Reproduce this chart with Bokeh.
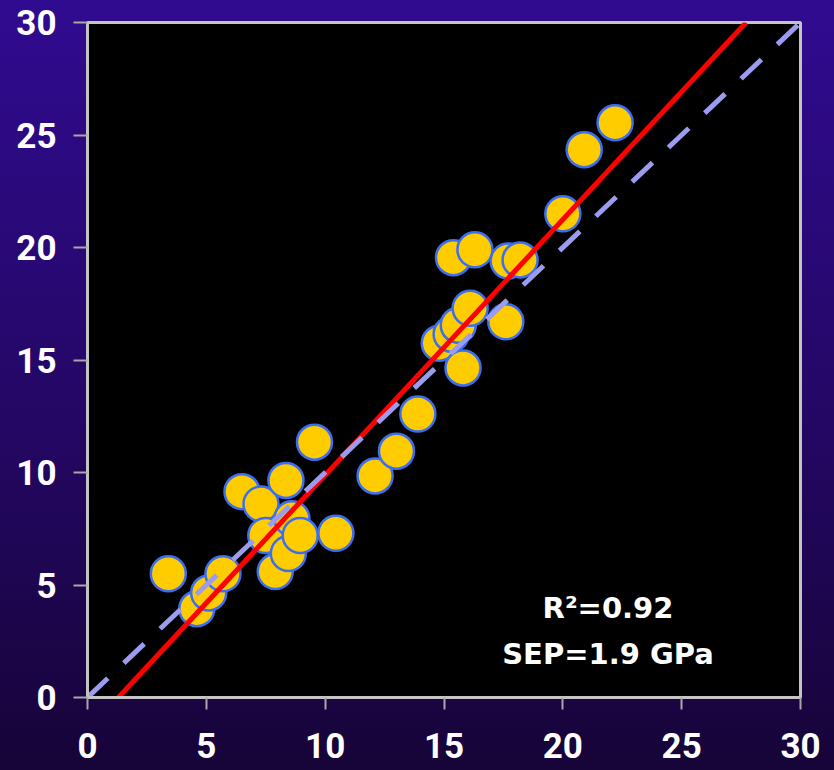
from bokeh.plotting import figure
from bokeh.models import Range1d, FixedTicker, Label
from bokeh.embed import file_html
from bokeh.resources import INLINE

# Measured vs predicted modulus (GPa)
measured = [3.4, 4.6, 5.1, 5.7, 6.5, 7.3, 7.5, 8.35, 7.9, 8.45, 8.6, 8.95, 9.55,
            10.45, 12.1, 13.0, 13.9, 14.8, 15.3, 15.6, 15.8, 16.1, 15.4, 16.3,
            17.6, 17.7, 18.2, 20.0, 20.9, 22.2]
predicted = [5.5, 3.95, 4.65, 5.5, 9.15, 8.6, 7.2, 9.65, 5.6, 6.4, 7.95, 7.2, 11.35,
             7.3, 9.85, 10.95, 12.6, 15.75, 16.15, 16.55, 14.65, 17.3, 19.55, 19.9,
             16.7, 19.4, 19.45, 21.5, 24.35, 25.55]

# Regression fit and identity reference
fit_slope = 1.136
fit_intercept = -1.477
axis_min, axis_max = 0, 30
ticks = [0, 5, 10, 15, 20, 25, 30]

r2_text = "R\u00b2=0.92"
sep_text = "SEP=1.9 GPa"

p = figure(width=834, height=770, output_backend="svg", toolbar_location=None,
           x_range=Range1d(axis_min, axis_max), y_range=Range1d(axis_min, axis_max),
           min_border_left=87, min_border_right=34, min_border_top=22, min_border_bottom=73)

p.styles = {"background": "linear-gradient(to bottom, #300b90 0%, #240764 55%, #170438 100%)"}
p.border_fill_color = None
p.background_fill_color = "black"
p.outline_line_color = "#c4c4c4"
p.outline_line_width = 3
p.grid.visible = False

for ax in (p.xaxis[0], p.yaxis[0]):
    ax.ticker = FixedTicker(ticks=ticks)
    ax.axis_line_color = "#c4c4c4"
    ax.axis_line_width = 3
    ax.major_tick_line_color = "#a8a8a8"
    ax.major_tick_line_width = 2
    ax.major_tick_in = 0
    ax.minor_tick_line_color = None
    ax.major_label_text_color = "white"
    ax.major_label_text_font = "Roboto"
    ax.major_label_text_font_style = "bold"
    ax.major_label_text_font_size = "35px"

p.xaxis.major_tick_out = 12
p.xaxis.major_label_standoff = 23
p.yaxis.major_tick_out = 14
p.yaxis.major_label_standoff = 17

p.scatter(measured, predicted, size=35, fill_color="#ffcc00", line_color="#3b6ff0",
          line_width=2.5)

x0 = (axis_min - fit_intercept) / fit_slope
x1 = (axis_max - fit_intercept) / fit_slope
p.line([x0, x1], [fit_slope * x0 + fit_intercept, fit_slope * x1 + fit_intercept],
       line_color="#ff0000", line_width=5)

p.line([axis_min, axis_max], [axis_min, axis_max], line_color="#9b9bf0", line_width=5,
       line_dash="28 22")

for txt, yv in ((r2_text, 4.0), (sep_text, 1.95)):
    p.add_layout(Label(x=21.9, y=yv, text=txt, text_align="center",
                       text_baseline="middle", text_color="white",
                       text_font="DejaVu Sans", text_font_style="bold",
                       text_font_size="29px"))

open("out.html", "w").write(file_html(p, INLINE))
